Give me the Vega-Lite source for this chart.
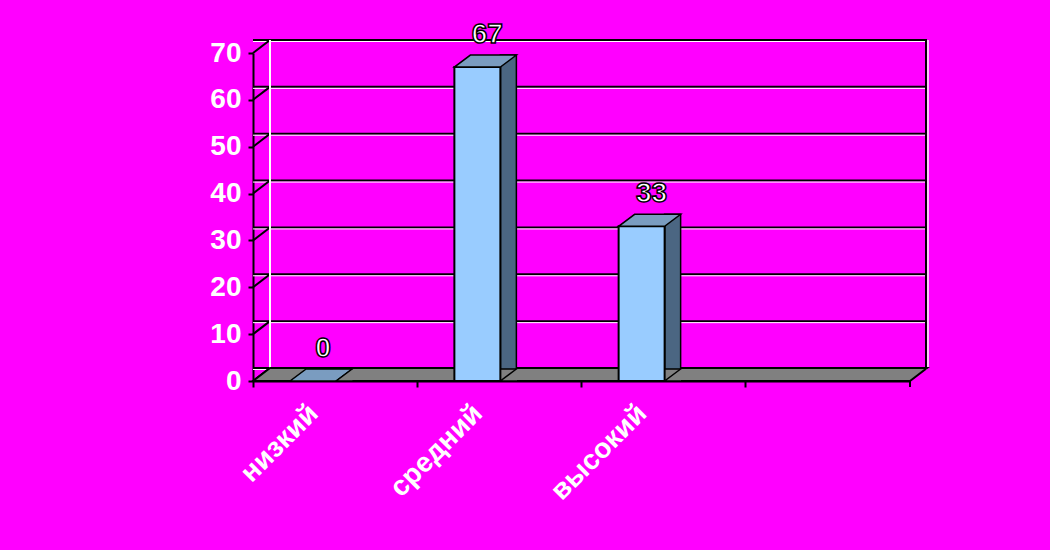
{
  "$schema": "https://vega.github.io/schema/vega-lite/v6.json",
  "width": 657,
  "height": 328,
  "autosize": "none",
  "padding": {"left": 253, "top": 53, "right": 140, "bottom": 169},
  "background": "#FF00FF",
  "config": {"view": {"stroke": null}, "font": "Liberation Sans"},
  "datasets": {
    "levels": [
      {"level": "низкий", "percent": 0},
      {"level": "средний", "percent": 67},
      {"level": "высокий", "percent": 33}
    ],
    "grid": [{"v": 0}, {"v": 10}, {"v": 20}, {"v": 30}, {"v": 40}, {"v": 50}, {"v": 60}, {"v": 70}],
    "one": [{"k": 1}]
  },
  "layer": [
    {
      "data": {"name": "grid"},
      "mark": {"type": "rule", "color": "black", "strokeWidth": 2, "xOffset": 17, "x2Offset": 17, "yOffset": -13},
      "encoding": {
        "y": {
          "field": "v", "type": "quantitative",
          "scale": {"domain": [0, 70], "nice": false, "zero": true},
          "axis": {
            "values": [0, 10, 20, 30, 40, 50, 60, 70],
            "title": null, "grid": false,
            "domainColor": "black", "domainWidth": 2,
            "tickColor": "black", "tickWidth": 2, "tickSize": 5,
            "labelFont": "Liberation Sans", "labelFontSize": 28, "labelFontWeight": "bold",
            "labelColor": "white", "labelPadding": 7,
            "encoding": {"labels": {"update": {"stroke": {"value": "black"}, "strokeWidth": {"value": 1.5}}}}
          }
        }
      }
    },
    {
      "data": {"name": "grid"},
      "mark": {"type": "rule", "color": "white", "strokeWidth": 1, "xOffset": 17, "x2Offset": 17, "yOffset": -11.5},
      "encoding": {"y": {"field": "v", "type": "quantitative"}}
    },
    {
      "data": {"name": "grid"},
      "mark": {"type": "point", "shape": "M0,0L0.5667,-0.4333", "size": 3600, "filled": false, "stroke": "black", "strokeWidth": 2, "opacity": 1},
      "encoding": {
        "x": {"datum": "низкий", "type": "nominal", "bandPosition": 0},
        "y": {"field": "v", "type": "quantitative"}
      }
    },
    {
      "data": {"name": "one"},
      "mark": {"type": "rule", "color": "white", "strokeWidth": 2, "xOffset": 17, "yOffset": -13, "y2Offset": -13},
      "encoding": {
        "x": {"datum": "низкий", "type": "nominal", "bandPosition": 0},
        "y": {"datum": 0, "type": "quantitative"},
        "y2": {"datum": 70}
      }
    },
    {
      "data": {"name": "one"},
      "mark": {"type": "rule", "color": "black", "strokeWidth": 2, "xOffset": 16, "yOffset": -13, "y2Offset": -13},
      "encoding": {
        "x": {"datum": " ", "type": "nominal", "bandPosition": 1},
        "y": {"datum": 0, "type": "quantitative"},
        "y2": {"datum": 70}
      }
    },
    {
      "data": {"name": "one"},
      "mark": {"type": "rule", "color": "white", "strokeWidth": 1.5, "xOffset": 18, "yOffset": -13, "y2Offset": -13},
      "encoding": {
        "x": {"datum": " ", "type": "nominal", "bandPosition": 1},
        "y": {"datum": 0, "type": "quantitative"},
        "y2": {"datum": 70}
      }
    },
    {
      "data": {"name": "one"},
      "mark": {"type": "point", "shape": "M0,0L1.6425,0L1.685,-0.0325L0.0425,-0.0325Z", "size": 640000, "filled": true, "fill": "#808080", "stroke": "black", "strokeWidth": 2, "opacity": 1},
      "encoding": {
        "x": {"datum": "низкий", "type": "nominal", "bandPosition": 0},
        "y": {"datum": 0, "type": "quantitative"}
      }
    },
    {
      "data": {"name": "one"},
      "mark": {"type": "rule", "color": "black", "strokeWidth": 2, "y2Offset": 6},
      "encoding": {
        "x": {"datum": " ", "type": "nominal", "bandPosition": 1},
        "y": {"datum": 0, "type": "quantitative"},
        "y2": {"datum": 0}
      }
    },
    {
      "data": {"name": "levels"},
      "mark": {"type": "bar", "width": 16, "xOffset": 9, "yOffset": -12, "fill": "#4B6682", "stroke": "black", "strokeWidth": 1.5},
      "encoding": {
        "x": {"field": "level", "type": "nominal"},
        "y": {"field": "percent", "type": "quantitative"}
      }
    },
    {
      "data": {"name": "levels"},
      "mark": {"type": "bar", "width": 46, "xOffset": -22, "fill": "#99CCFF", "stroke": "black", "strokeWidth": 2},
      "encoding": {
        "x": {
          "field": "level", "type": "nominal",
          "scale": {"domain": ["низкий", "средний", "высокий", " "], "paddingInner": 0, "paddingOuter": 0},
          "axis": {
            "title": null, "grid": false, "bandPosition": 0,
            "labelAngle": -45, "labelAlign": "right", "labelBaseline": "middle",
            "labelOffset": -21, "labelPadding": 22,
            "tickSize": 6, "tickWidth": 2, "tickColor": "black",
            "domainColor": "black", "domainWidth": 2,
            "labelFont": "Liberation Sans", "labelFontSize": 28, "labelFontWeight": "bold",
            "labelColor": "white",
            "encoding": {"labels": {"update": {"stroke": {"value": "black"}, "strokeWidth": {"value": 1.5}}}}
          }
        },
        "y": {"field": "percent", "type": "quantitative"}
      }
    },
    {
      "data": {"name": "levels"},
      "mark": {"type": "point", "shape": "M-0.7667,0L0.7667,0L1.3,-0.4L-0.2333,-0.4Z", "size": 3600, "xOffset": -22, "filled": true, "fill": "#7A9CC0", "stroke": "black", "strokeWidth": 1.5, "opacity": 1},
      "encoding": {
        "x": {"field": "level", "type": "nominal"},
        "y": {"field": "percent", "type": "quantitative"}
      }
    },
    {
      "data": {"name": "levels"},
      "mark": {"type": "point", "shape": "M1.3,0L0.7667,0L1.3,-0.4", "size": 3600, "xOffset": -22, "filled": true, "fill": "#808080", "stroke": "black", "strokeWidth": 1.5, "opacity": 1},
      "encoding": {
        "x": {"field": "level", "type": "nominal"},
        "y": {"datum": 0, "type": "quantitative"}
      }
    },
    {
      "data": {"name": "levels"},
      "mark": {"type": "text", "xOffset": -12, "yOffset": -32, "baseline": "middle", "align": "center", "font": "Liberation Sans", "fontSize": 28, "fontWeight": "bold", "fill": "white", "stroke": "black", "strokeWidth": 1.5},
      "encoding": {
        "x": {"field": "level", "type": "nominal"},
        "y": {"field": "percent", "type": "quantitative"},
        "text": {"field": "percent", "type": "quantitative"}
      }
    }
  ]
}
